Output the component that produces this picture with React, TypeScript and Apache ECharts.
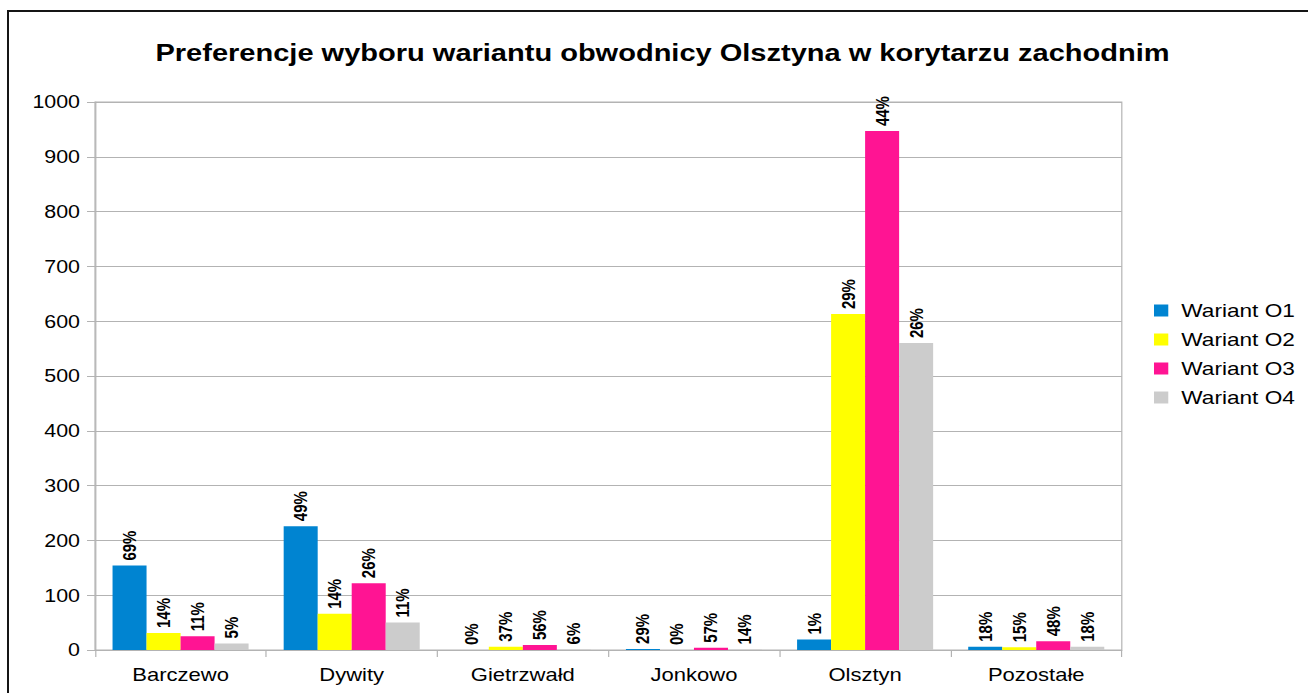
import React, { useEffect, useRef } from "react";
import * as echarts from "echarts";

const categories = ["Barczewo", "Dywity", "Gietrzwałd", "Jonkowo", "Olsztyn", "Pozostałe"];
const seriesNames = ["Wariant O1", "Wariant O2", "Wariant O3", "Wariant O4"];
const seriesColors = ["#0084d1", "#ffff00", "#ff1493", "#cccccc"];

const valuesO1 = [154, 226, 0, 2, 19, 6];
const valuesO2 = [31, 66, 6, 0, 613, 5];
const valuesO3 = [25, 122, 9, 4, 947, 16];
const valuesO4 = [12, 50, 1, 1, 560, 6];

const pctO1 = ["69%", "49%", "0%", "29%", "1%", "18%"];
const pctO2 = ["14%", "14%", "37%", "0%", "29%", "15%"];
const pctO3 = ["11%", "26%", "56%", "57%", "44%", "48%"];
const pctO4 = ["5%", "11%", "6%", "14%", "26%", "18%"];

const yMin = 0;
const yMax = 1000;
const yInterval = 100;

const titleText = "Preferencje wyboru wariantu obwodnicy Olsztyna w korytarzu zachodnim";

const STRETCH = 1.19;
const W = 1308;
const H = 693;
const INNER_W = W / STRETCH;
const FONT = "'Liberation Sans', Arial, sans-serif";

export default function App() {
  const ref = useRef<HTMLDivElement>(null);

  useEffect(() => {
    if (!ref.current) return;
    const chart = echarts.init(ref.current, undefined, { renderer: "svg" });
    const allValues = [valuesO1, valuesO2, valuesO3, valuesO4];
    const allPct = [pctO1, pctO2, pctO3, pctO4];
    const plotLeft = 95 / STRETCH;
    const plotRight = 1122 / STRETCH;

    chart.setOption({
      animation: false,
      title: {
        text: titleText,
        left: 662.5 / STRETCH,
        top: 41,
        textAlign: "center",
        padding: 0,
        textStyle: { fontFamily: FONT, fontSize: 24.4, fontWeight: "bold", color: "#000" },
      },
      legend: {
        orient: "vertical",
        left: 1154 / STRETCH,
        top: 301,
        padding: 0,
        itemWidth: 12,
        itemHeight: 12,
        itemGap: 10,
        icon: "rect",
        data: seriesNames,
        textStyle: { fontFamily: FONT, fontSize: 19, color: "#000", padding: [0, 0, 0, 6] },
      },
      grid: {
        left: plotLeft,
        right: INNER_W - plotRight,
        top: 102,
        bottom: H - 650,
        show: true,
        borderColor: "#b3b3b3",
        borderWidth: 1,
      },
      xAxis: {
        type: "category",
        data: categories,
        axisLine: { show: true, lineStyle: { color: "#b3b3b3", width: 1 } },
        axisTick: { show: true, length: 7, alignWithLabel: false, lineStyle: { color: "#b3b3b3" } },
        axisLabel: { fontFamily: FONT, fontSize: 18.5, color: "#000", margin: 15 },
        splitLine: { show: false },
      },
      yAxis: {
        type: "value",
        min: yMin,
        max: yMax,
        interval: yInterval,
        axisLine: { show: true, lineStyle: { color: "#b3b3b3", width: 1 } },
        axisTick: { show: true, length: 8 / STRETCH, lineStyle: { color: "#b3b3b3" } },
        axisLabel: {
          fontFamily: FONT,
          fontSize: 18,
          color: "#000",
          margin: 15 / STRETCH,
          formatter: (v: number) => String(v),
        },
        splitLine: { show: true, lineStyle: { color: "#b3b3b3", width: 1 } },
      },
      series: seriesNames.map((name, i) => ({
        name,
        type: "bar",
        data: allValues[i],
        barGap: "0%",
        barCategoryGap: "20.5%",
        itemStyle: { color: seriesColors[i] },
        label: {
          show: true,
          position: "top",
          rotate: 90,
          align: "left",
          verticalAlign: "middle",
          distance: 5,
          fontFamily: FONT,
          fontSize: 15,
          fontWeight: "bold",
          color: "#000",
          formatter: (p: any) => allPct[i][p.dataIndex],
        },
      })),
    });
    return () => chart.dispose();
  }, []);

  return (
    <div style={{ position: "fixed", left: 0, top: 0, width: W, height: H, overflow: "hidden", background: "#fff" }}>
      <div
        style={{
          position: "absolute",
          left: 7,
          top: 10,
          width: 1400,
          height: 800,
          borderLeft: "2px solid #151515",
          borderTop: "2px solid #151515",
        }}
      />
      <div
        ref={ref}
        style={{
          position: "absolute",
          left: 0,
          top: 0,
          width: INNER_W,
          height: H,
          transform: `scaleX(${STRETCH})`,
          transformOrigin: "0 0",
        }}
      />
    </div>
  );
}
